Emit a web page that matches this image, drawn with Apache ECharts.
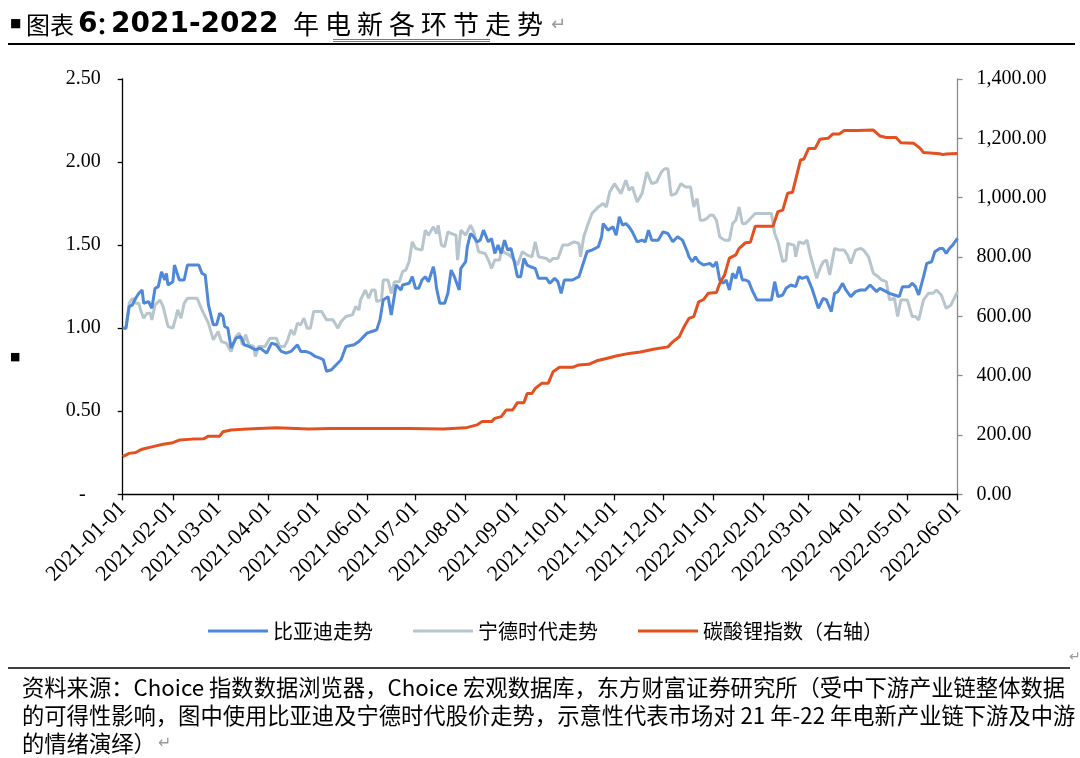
<!DOCTYPE html>
<html>
<head>
<meta charset="utf-8">
<title>2021-2022 年电新各环节走势</title>
<script src="https://cdn.jsdelivr.net/npm/echarts@6/dist/echarts.min.js"></script>
<style>
html, body { margin: 0; padding: 0; background: #fff; }
#chart { width: 1080px; height: 758px; }
</style>
</head>
<body>
<div id="chart"></div>
<script>
// 比亚迪走势 (left axis)
const bydDates = [
  '2021-01-01','2021-01-03','2021-01-05','2021-01-07','2021-01-09','2021-01-11','2021-01-13','2021-01-14','2021-01-17','2021-01-19','2021-01-21','2021-01-23','2021-01-25','2021-01-27','2021-01-28','2021-01-29',
  '2021-02-01','2021-02-02','2021-02-05','2021-02-08','2021-02-10','2021-02-17','2021-02-19','2021-02-21','2021-02-23','2021-02-26','2021-02-28',
  '2021-03-02','2021-03-04','2021-03-05','2021-03-07','2021-03-09','2021-03-12','2021-03-15','2021-03-17','2021-03-20','2021-03-24','2021-03-27','2021-03-31',
  '2021-04-03','2021-04-06','2021-04-09','2021-04-12','2021-04-15','2021-04-19','2021-04-21','2021-04-24','2021-04-27','2021-04-30',
  '2021-05-03','2021-05-05','2021-05-07','2021-05-10','2021-05-13','2021-05-16','2021-05-19','2021-05-24','2021-05-27','2021-05-29',
  '2021-06-01','2021-06-04','2021-06-07','2021-06-09','2021-06-11','2021-06-14','2021-06-16','2021-06-19','2021-06-22','2021-06-23','2021-06-27','2021-06-28','2021-06-29',
  '2021-07-01','2021-07-03','2021-07-05','2021-07-07','2021-07-09','2021-07-12','2021-07-13','2021-07-14','2021-07-16','2021-07-19','2021-07-21','2021-07-23','2021-07-25','2021-07-28','2021-07-29',
  '2021-08-01','2021-08-02','2021-08-04','2021-08-06','2021-08-08','2021-08-10','2021-08-12','2021-08-15','2021-08-17','2021-08-19','2021-08-21','2021-08-23','2021-08-25','2021-08-27','2021-08-29','2021-08-31',
  '2021-09-02','2021-09-04','2021-09-06','2021-09-08','2021-09-10','2021-09-13','2021-09-15','2021-09-20','2021-09-22','2021-09-25','2021-09-27','2021-09-29',
  '2021-10-01','2021-10-06','2021-10-10','2021-10-12','2021-10-15','2021-10-18','2021-10-22','2021-10-24','2021-10-25','2021-10-28','2021-10-31',
  '2021-11-02','2021-11-04','2021-11-06','2021-11-08','2021-11-10','2021-11-12','2021-11-15','2021-11-18','2021-11-20','2021-11-22','2021-11-24','2021-11-28',
  '2021-12-01','2021-12-04','2021-12-07','2021-12-10','2021-12-13','2021-12-16','2021-12-17','2021-12-19','2021-12-21','2021-12-23','2021-12-26','2021-12-30',
  '2022-01-01','2022-01-03','2022-01-05','2022-01-07','2022-01-09','2022-01-11','2022-01-13','2022-01-15','2022-01-17','2022-01-19','2022-01-21','2022-01-23','2022-01-25','2022-01-28',
  '2022-02-06','2022-02-08','2022-02-10','2022-02-13','2022-02-15','2022-02-18','2022-02-21','2022-02-23','2022-02-25','2022-02-28',
  '2022-03-03','2022-03-07','2022-03-10','2022-03-12','2022-03-15','2022-03-17','2022-03-19','2022-03-22','2022-03-24','2022-03-27','2022-03-30',
  '2022-04-02','2022-04-05','2022-04-08','2022-04-12','2022-04-14','2022-04-18','2022-04-20','2022-04-23','2022-04-26','2022-04-28',
  '2022-05-02','2022-05-04','2022-05-06','2022-05-08','2022-05-11','2022-05-13','2022-05-16','2022-05-18','2022-05-21','2022-05-23','2022-05-25','2022-05-27','2022-05-29','2022-06-01'
]
const bydValues = [
  1.00,1.00,1.13,1.14,1.18,1.21,1.23,1.15,1.16,1.12,1.24,1.25,1.34,1.29,1.33,1.26,
  1.28,1.38,1.29,1.29,1.38,1.38,1.33,1.32,1.14,1.02,1.02,
  1.09,1.07,1.01,1.00,0.88,0.94,0.95,0.90,0.89,0.87,0.88,0.85,
  0.91,0.90,0.86,0.85,0.86,0.90,0.86,0.86,0.85,0.83,
  0.82,0.81,0.74,0.75,0.78,0.81,0.89,0.90,0.92,0.94,
  0.97,0.98,0.99,1.05,1.17,1.19,1.08,1.26,1.23,1.26,1.27,1.28,1.31,
  1.24,1.24,1.29,1.31,1.28,1.37,1.32,1.24,1.15,1.15,1.21,1.35,1.31,1.23,1.36,
  1.40,1.49,1.57,1.55,1.52,1.53,1.59,1.52,1.54,1.45,1.50,1.45,1.53,1.47,1.48,1.40,
  1.31,1.31,1.42,1.38,1.37,1.36,1.30,1.30,1.27,1.30,1.28,1.21,
  1.29,1.29,1.31,1.37,1.46,1.47,1.49,1.55,1.63,1.59,1.61,
  1.56,1.67,1.62,1.63,1.61,1.58,1.52,1.53,1.52,1.59,1.53,1.53,
  1.58,1.57,1.52,1.55,1.53,1.46,1.43,1.40,1.43,1.40,1.38,1.39,
  1.37,1.40,1.29,1.27,1.29,1.23,1.33,1.30,1.37,1.29,1.29,1.28,1.23,1.17,
  1.17,1.28,1.19,1.20,1.24,1.26,1.25,1.31,1.30,1.31,
  1.24,1.12,1.18,1.17,1.10,1.21,1.22,1.27,1.23,1.19,1.22,
  1.23,1.23,1.26,1.22,1.24,1.22,1.21,1.20,1.19,1.25,
  1.25,1.27,1.25,1.20,1.31,1.39,1.40,1.46,1.48,1.48,1.45,1.48,1.50,1.54
]

// 宁德时代走势 (left axis)
const catlDates = [
  '2021-01-01','2021-01-03','2021-01-05','2021-01-07','2021-01-09','2021-01-11','2021-01-12','2021-01-14','2021-01-16','2021-01-18','2021-01-19','2021-01-21','2021-01-24','2021-01-26','2021-01-27','2021-01-29',
  '2021-02-01','2021-02-03','2021-02-04','2021-02-06','2021-02-08','2021-02-10','2021-02-16','2021-02-19','2021-02-21','2021-02-23','2021-02-26',
  '2021-03-01','2021-03-03','2021-03-06','2021-03-09','2021-03-12','2021-03-14','2021-03-16','2021-03-18','2021-03-20','2021-03-23','2021-03-24','2021-03-26','2021-03-30',
  '2021-04-02','2021-04-06','2021-04-08','2021-04-11','2021-04-13','2021-04-15','2021-04-17','2021-04-19','2021-04-21','2021-04-23','2021-04-25','2021-04-27','2021-04-29',
  '2021-05-04','2021-05-07','2021-05-11','2021-05-14','2021-05-16','2021-05-19','2021-05-23','2021-05-25','2021-05-27','2021-05-28','2021-05-31',
  '2021-06-02','2021-06-04','2021-06-06','2021-06-07','2021-06-10','2021-06-11','2021-06-14','2021-06-16','2021-06-18','2021-06-21','2021-06-23','2021-06-25','2021-06-27','2021-06-28','2021-06-29',
  '2021-07-01','2021-07-05','2021-07-07','2021-07-09','2021-07-12','2021-07-14','2021-07-15','2021-07-17','2021-07-19','2021-07-21','2021-07-23','2021-07-26','2021-07-27','2021-07-29',
  '2021-08-01','2021-08-04','2021-08-06','2021-08-09','2021-08-13','2021-08-15','2021-08-17','2021-08-19','2021-08-22','2021-08-23','2021-08-26','2021-08-28','2021-08-31',
  '2021-09-02','2021-09-05','2021-09-08','2021-09-11','2021-09-13','2021-09-15','2021-09-20','2021-09-22','2021-09-24','2021-09-27','2021-09-30',
  '2021-10-03','2021-10-07','2021-10-10','2021-10-11','2021-10-13','2021-10-15','2021-10-18','2021-10-19','2021-10-22','2021-10-25','2021-10-27','2021-10-29',
  '2021-11-01','2021-11-03','2021-11-05','2021-11-08','2021-11-10','2021-11-12','2021-11-15','2021-11-18','2021-11-21','2021-11-24','2021-11-27','2021-11-30',
  '2021-12-02','2021-12-04','2021-12-06','2021-12-09','2021-12-12','2021-12-15','2021-12-18','2021-12-20','2021-12-22','2021-12-24','2021-12-26','2021-12-28','2021-12-30',
  '2022-01-01','2022-01-03','2022-01-05','2022-01-08','2022-01-11','2022-01-13','2022-01-15','2022-01-17','2022-01-19','2022-01-21','2022-01-24','2022-01-27',
  '2022-02-06','2022-02-08','2022-02-10','2022-02-13','2022-02-15','2022-02-16','2022-02-20','2022-02-21','2022-02-23','2022-02-26','2022-02-28',
  '2022-03-02','2022-03-06','2022-03-08','2022-03-10','2022-03-12','2022-03-14','2022-03-17','2022-03-18','2022-03-20','2022-03-23','2022-03-25','2022-03-27','2022-03-30',
  '2022-04-02','2022-04-04','2022-04-07','2022-04-10','2022-04-13','2022-04-15','2022-04-18','2022-04-20','2022-04-23','2022-04-25','2022-04-27',
  '2022-05-01','2022-05-04','2022-05-06','2022-05-08','2022-05-11','2022-05-14','2022-05-17','2022-05-19','2022-05-22','2022-05-25','2022-05-28','2022-06-01'
]
const catlValues = [
  1.00,1.00,1.15,1.18,1.15,1.15,1.11,1.06,1.09,1.09,1.05,1.14,1.17,1.13,1.09,1.01,
  1.00,1.07,1.11,1.06,1.15,1.18,1.18,1.11,1.07,1.03,0.93,
  0.98,0.92,0.91,0.86,0.95,0.97,0.90,0.96,0.90,0.89,0.83,0.89,0.89,
  0.94,0.94,0.89,0.89,0.93,0.99,0.96,1.03,1.02,1.06,1.00,1.00,1.10,
  1.10,1.05,1.05,1.00,1.04,1.07,1.08,1.13,1.11,1.17,1.23,
  1.18,1.23,1.23,1.16,1.17,1.29,1.29,1.21,1.28,1.28,1.34,1.35,1.40,1.41,1.52,
  1.48,1.47,1.59,1.56,1.61,1.57,1.62,1.50,1.49,1.58,1.57,1.56,1.41,1.59,
  1.56,1.62,1.58,1.46,1.45,1.41,1.36,1.41,1.41,1.47,1.45,1.44,1.41,
  1.38,1.46,1.44,1.43,1.52,1.43,1.42,1.40,1.42,1.42,1.50,
  1.50,1.52,1.51,1.43,1.55,1.61,1.69,1.68,1.73,1.75,1.73,1.82,
  1.87,1.84,1.81,1.89,1.83,1.85,1.76,1.81,1.94,1.87,1.88,1.94,
  1.96,1.96,1.80,1.81,1.87,1.85,1.85,1.73,1.78,1.65,1.65,1.66,1.68,
  1.68,1.65,1.55,1.53,1.53,1.63,1.65,1.73,1.63,1.63,1.66,1.69,
  1.69,1.57,1.52,1.40,1.41,1.51,1.50,1.43,1.52,1.51,1.53,
  1.44,1.30,1.36,1.40,1.41,1.32,1.48,1.49,1.47,1.47,1.44,1.39,1.47,
  1.48,1.47,1.43,1.33,1.31,1.29,1.28,1.17,1.18,1.07,1.17,
  1.17,1.07,1.07,1.05,1.17,1.21,1.21,1.23,1.20,1.12,1.14,1.22
]

// 碳酸锂指数 (right axis)
const lithiumDates = [
  '2021-01-01','2021-01-05','2021-01-09','2021-01-13','2021-01-19','2021-01-26',
  '2021-02-01','2021-02-05','2021-02-13','2021-02-20','2021-02-23',
  '2021-03-02','2021-03-04','2021-03-09','2021-03-16','2021-03-26',
  '2021-04-06','2021-04-26','2021-05-09','2021-06-27','2021-07-18',
  '2021-08-01','2021-08-08','2021-08-11','2021-08-17','2021-08-19','2021-08-23','2021-08-26','2021-08-30',
  '2021-09-02','2021-09-06','2021-09-08','2021-09-11','2021-09-13','2021-09-17','2021-09-21','2021-09-24','2021-09-28',
  '2021-10-06','2021-10-10','2021-10-16','2021-10-21','2021-10-27',
  '2021-11-02','2021-11-10','2021-11-17','2021-11-25',
  '2021-12-04','2021-12-07','2021-12-11','2021-12-14','2021-12-17','2021-12-20','2021-12-23','2021-12-26','2021-12-29',
  '2022-01-03','2022-01-05','2022-01-08','2022-01-11','2022-01-15','2022-01-17','2022-01-21','2022-01-24','2022-01-27',
  '2022-02-07','2022-02-10','2022-02-13','2022-02-16','2022-02-19','2022-02-24','2022-02-26',
  '2022-03-01','2022-03-05','2022-03-08','2022-03-13','2022-03-16','2022-03-20','2022-03-23','2022-03-31',
  '2022-04-10','2022-04-14','2022-04-18','2022-04-24','2022-04-27',
  '2022-05-05','2022-05-09','2022-05-11','2022-05-21','2022-05-23','2022-05-25','2022-06-01'
]
const lithiumValues = [
  127,138,141,152,160,169,
  174,183,186,187,196,
  196,211,217,219,222,
  224,220,222,222,220,
  224,234,245,245,256,262,284,284,
  309,309,340,340,357,374,374,413,428,
  428,436,438,450,458,
  466,475,480,489,
  497,514,531,565,593,599,649,656,678,
  680,711,739,796,807,829,848,850,904,
  904,953,958,1015,1018,1127,1130,
  1166,1166,1197,1200,1215,1215,1226,1226,
  1228,1208,1203,1203,1185,
  1183,1166,1152,1148,1145,1147,1149
]

const seriesNames = ['比亚迪走势', '宁德时代走势', '碳酸锂指数（右轴）']
const seriesColors = ['#4f88d8', '#b7c5cc', '#e2511f']
const axisStart = '2021-01-01'
const axisEnd = '2022-06-01'

// every calendar day of the axis, so months sit at their real spacing
function buildDays(start, end) {
  const out = []
  const d = new Date(start + 'T00:00:00Z')
  const stop = new Date(end + 'T00:00:00Z')
  while (d <= stop) {
    out.push(d.toISOString().slice(0, 10))
    d.setUTCDate(d.getUTCDate() + 1)
  }
  return out
}
const days = buildDays(axisStart, axisEnd)
const isMonthStart = (i, v) => v.slice(8) === '01'

function pairs(dates, values) {
  return dates.map((d, i) => [d, values[i]])
}

function thousands(v) {
  const parts = v.toFixed(2).split('.')
  parts[0] = parts[0].replace(/\B(?=(\d{3})+(?!\d))/g, ',')
  return parts.join('.')
}

const cjk = '"Noto Sans CJK SC", sans-serif'
const serif = '"Liberation Serif", "Times New Roman", serif'
const note = '22.3px ' + cjk

// title pieces
const titleTail = '年电新各环节走势'
const graphics = [
  { type: 'text', x: 10, y: 24, style: { text: '■', font: 'bold 12px "DejaVu Sans"', fill: '#000', verticalAlign: 'middle' } },
  { type: 'text', x: 26, y: 25, style: { text: '图表', font: '24px ' + cjk, fill: '#000', verticalAlign: 'middle' } },
  { type: 'text', x: 78, y: 25, style: { text: '6', font: 'bold 28px "DejaVu Sans"', fill: '#000', verticalAlign: 'middle' } },
  { type: 'text', x: 96, y: 25, style: { text: '：', font: 'bold 24px ' + cjk, fill: '#000', verticalAlign: 'middle' } },
  { type: 'text', x: 111, y: 25, style: { text: '2021-2022', font: 'bold 28px "DejaVu Sans"', fill: '#000', verticalAlign: 'middle' } },
  { type: 'text', x: 551, y: 25, style: { text: '↵', font: '18px "DejaVu Sans"', fill: '#9a9a9a', verticalAlign: 'middle' } },
  { type: 'line', shape: { x1: 333, y1: 39.5, x2: 490, y2: 39.5 }, style: { stroke: '#4a7fd6', lineWidth: 1 } },
  { type: 'line', shape: { x1: 333, y1: 41.5, x2: 490, y2: 41.5 }, style: { stroke: '#4a7fd6', lineWidth: 1 } },
  { type: 'line', shape: { x1: 8, y1: 44, x2: 1075, y2: 44 }, style: { stroke: '#000', lineWidth: 1.8 } },
  { type: 'text', x: 10, y: 357, style: { text: '■', font: '11px "DejaVu Sans"', fill: '#000', verticalAlign: 'middle' } },
  // source note
  { type: 'line', shape: { x1: 8, y1: 668, x2: 1070, y2: 668 }, style: { stroke: '#000', lineWidth: 1.5 } },
  { type: 'text', x: 1069, y: 657, style: { text: '↵', font: '14px "DejaVu Sans"', fill: '#9a9a9a', verticalAlign: 'middle' } },
  { type: 'text', x: 22, y: 688, style: { text: '资料来源：Choice 指数数据浏览器，Choice 宏观数据库，东方财富证券研究所（受中下游产业链整体数据', font: note, fill: '#000', verticalAlign: 'middle' } },
  { type: 'text', x: 22, y: 716, style: { text: '的可得性影响，图中使用比亚迪及宁德时代股价走势，示意性代表市场对 21 年-22 年电新产业链下游及中游', font: note, fill: '#000', verticalAlign: 'middle' } },
  { type: 'text', x: 22, y: 744, style: { text: '的情绪演绎）', font: note, fill: '#000', verticalAlign: 'middle' } },
  { type: 'text', x: 158, y: 744, style: { text: '↵', font: '16px "DejaVu Sans"', fill: '#9a9a9a', verticalAlign: 'middle' } }
]
for (let i = 0; i < titleTail.length; i++) {
  graphics.push({ type: 'text', x: 293 + i * 32, y: 24, style: { text: titleTail[i], font: '26px ' + cjk, fill: '#000', verticalAlign: 'middle' } })
}

const chart = echarts.init(document.getElementById('chart'))
chart.setOption({
  backgroundColor: '#fff',
  animation: false,
  color: seriesColors,
  grid: { left: 122.7, right: 122.5, top: 79, bottom: 263.7, containLabel: false },
  legend: {
    left: 208,
    top: 621,
    padding: 0,
    itemWidth: 60,
    itemHeight: 3,
    itemGap: 40,
    icon: 'rect',
    textStyle: { fontFamily: cjk, fontSize: 20, color: '#000' },
    data: seriesNames
  },
  graphic: graphics,
  xAxis: {
    type: 'category',
    data: days,
    boundaryGap: false,
    axisLine: { lineStyle: { color: '#000', width: 1.3 } },
    axisTick: { interval: isMonthStart, length: 6, lineStyle: { color: '#000', width: 1.3 } },
    axisLabel: {
      interval: isMonthStart,
      rotate: 45,
      margin: 11,
      fontFamily: serif,
      fontSize: 22,
      color: '#000'
    },
    splitLine: { show: false }
  },
  yAxis: [
    {
      type: 'value',
      min: 0,
      max: 2.5,
      interval: 0.5,
      axisLine: { show: true, lineStyle: { color: '#000', width: 1.3 } },
      axisTick: { show: true, length: 5, lineStyle: { color: '#000', width: 1.3 } },
      axisLabel: {
        margin: 22,
        fontFamily: serif,
        fontSize: 20,
        color: '#000',
        formatter: v => (v === 0 ? '-   ' : v.toFixed(2))
      },
      splitLine: { show: false }
    },
    {
      type: 'value',
      min: 0,
      max: 1400,
      interval: 200,
      position: 'right',
      axisLine: { show: true, lineStyle: { color: '#8c8c8c', width: 1.3 } },
      axisTick: { show: true, length: 5, lineStyle: { color: '#8c8c8c', width: 1.3 } },
      axisLabel: {
        margin: 19,
        fontFamily: serif,
        fontSize: 20,
        color: '#000',
        formatter: v => thousands(v)
      },
      splitLine: { show: false }
    }
  ],
  series: [
    {
      name: seriesNames[0],
      type: 'line',
      yAxisIndex: 0,
      showSymbol: false,
      symbol: 'none',
      lineStyle: { width: 3 },
      data: pairs(bydDates, bydValues),
      z: 3
    },
    {
      name: seriesNames[1],
      type: 'line',
      yAxisIndex: 0,
      showSymbol: false,
      symbol: 'none',
      lineStyle: { width: 3 },
      data: pairs(catlDates, catlValues),
      z: 2
    },
    {
      name: seriesNames[2],
      type: 'line',
      yAxisIndex: 1,
      showSymbol: false,
      symbol: 'none',
      lineStyle: { width: 3 },
      data: pairs(lithiumDates, lithiumValues),
      z: 4
    }
  ]
})
</script>
</body>
</html>
